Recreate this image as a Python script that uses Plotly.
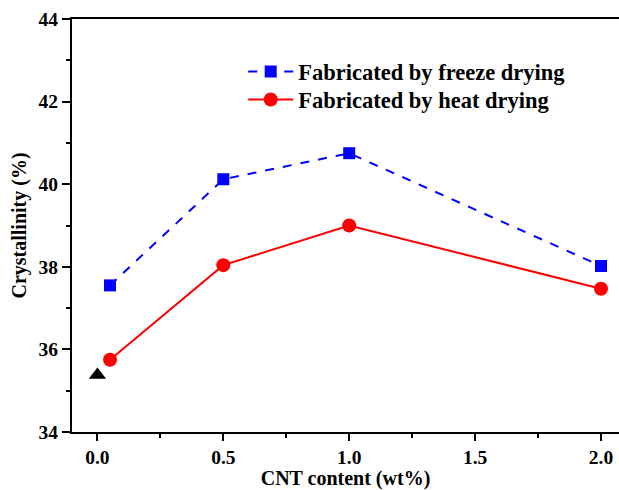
import plotly.graph_objects as go

x_vals = [0.05, 0.5, 1.0, 2.0]
freeze_y = [37.55, 40.12, 40.75, 38.02]
heat_y = [35.75, 38.04, 39.0, 37.47]
ref_x = [0.0]
ref_y = [35.38]

FONT = "Liberation Serif"

fig = go.Figure()
fig.add_trace(go.Scatter(
    x=x_vals, y=freeze_y, mode="lines+markers", name="Fabricated by freeze drying",
    line=dict(color="#0000FF", width=2, dash="dash"),
    marker=dict(symbol="square", size=12, color="#0000FF"), legend="legend"))
fig.add_trace(go.Scatter(
    x=x_vals, y=heat_y, mode="lines+markers", name="Fabricated by heat drying",
    line=dict(color="#FF0000", width=2),
    marker=dict(symbol="circle", size=14, color="#FF0000"), legend="legend2"))
fig.add_trace(go.Scatter(
    x=ref_x, y=ref_y, mode="markers", showlegend=False,
    marker=dict(symbol="triangle-up", size=15, color="black")))

leg_common = dict(xanchor="left", yanchor="middle",
                  font=dict(family=FONT, size=22.5, color="black", weight="bold"),
                  bgcolor="rgba(0,0,0,0)", itemwidth=45)

fig.update_layout(
    width=619, height=490,
    margin=dict(l=72, r=0, t=19, b=58, autoexpand=False),
    paper_bgcolor="white", plot_bgcolor="white",
    font=dict(family=FONT, size=19, color="black", weight="bold"),
    showlegend=True,
    legend=dict(x=0.313, y=0.872, **leg_common),
    legend2=dict(x=0.313, y=0.804, **leg_common),
)
fig.update_xaxes(
    automargin=False,
    range=[-0.101, 2.0715], tickvals=[0, 0.5, 1.0, 1.5, 2.0],
    ticktext=["0.0", "0.5", "1.0", "1.5", "2.0"],
    showline=True, linewidth=2, linecolor="black", mirror=True,
    ticks="outside", ticklen=7, tickwidth=2, tickcolor="black",
    minor=dict(dtick=0.25, tick0=0, ticks="outside", ticklen=4, tickwidth=2, tickcolor="black"),
    showgrid=False, zeroline=False,
    tickfont=dict(family=FONT, size=19.5, weight="bold"),
    title=dict(text="CNT content (wt%)", font=dict(family=FONT, size=20, weight="bold"), standoff=3),
)
fig.update_yaxes(
    automargin=False,
    range=[34, 44], tickvals=[34, 36, 38, 40, 42, 44],
    showline=True, linewidth=2, linecolor="black",
    ticks="outside", ticklen=8, tickwidth=2, tickcolor="black",
    minor=dict(dtick=1, tick0=34, ticks="outside", ticklen=4, tickwidth=2, tickcolor="black"),
    showgrid=False, zeroline=False,
    tickfont=dict(family=FONT, size=19.5, weight="bold"),
    title=dict(text="Crystallinity (%)", font=dict(family=FONT, size=20, weight="bold"), standoff=7),
)

fig.write_html("out.html", config={"displayModeBar": False},
               post_script="document.body.style.margin='0px';")
